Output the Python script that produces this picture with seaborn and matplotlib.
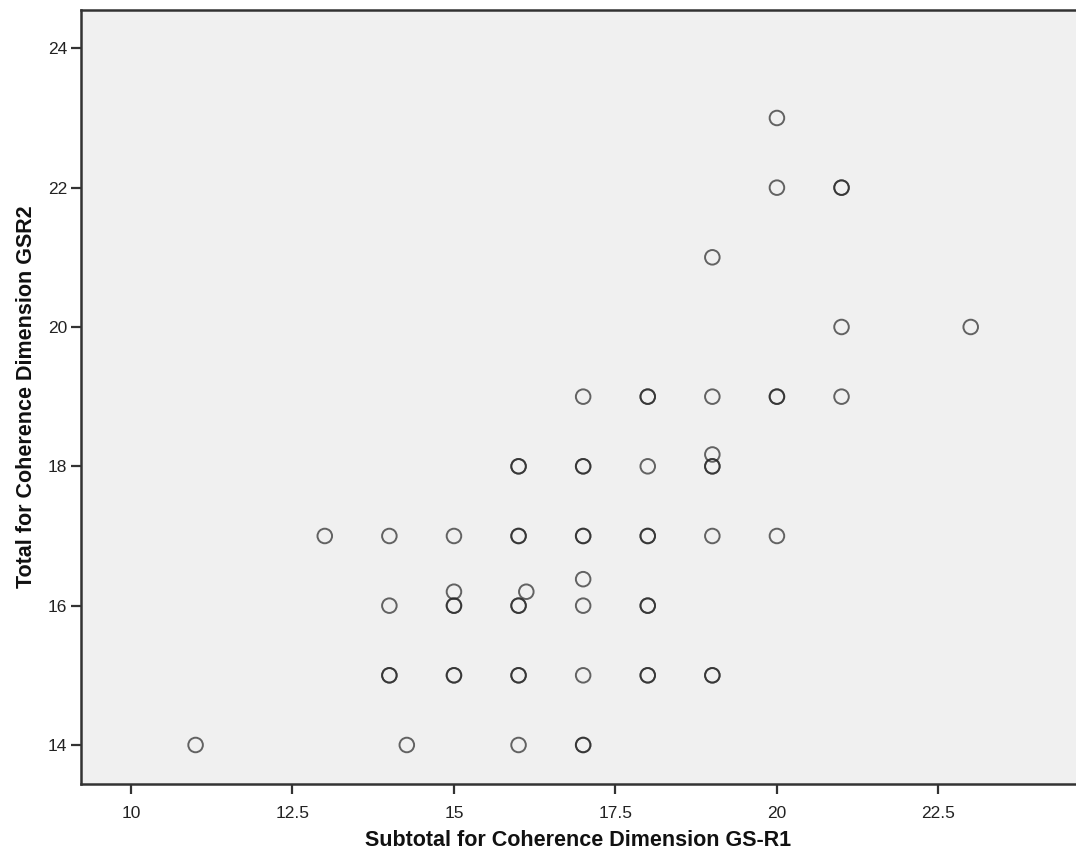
import matplotlib
matplotlib.use("Agg")
import matplotlib.pyplot as plt
import seaborn as sns
import pandas as pd

# Data (duplicates = overlapping darker markers)
gs_r1 = [20, 20, 21, 21, 19, 21, 23,
         17, 18, 18, 19, 20, 20, 21,
         19.0,
         16, 16, 17, 17, 18, 19, 19,
         13, 14, 15, 16, 16, 17, 17, 18, 18, 19, 20,
         17,
         15, 16.12,
         14, 15, 15, 16, 16, 17, 18, 18,
         14, 14, 15, 15, 16, 16, 17, 18, 18, 19, 19,
         11, 14.27, 16, 17, 17]
gsr2 = [23, 22, 22, 22, 21, 20, 20,
        19, 19, 19, 19, 19, 19, 19,
        18.17,
        18, 18, 18, 18, 18, 18, 18,
        17, 17, 17, 17, 17, 17, 17, 17, 17, 17, 17,
        16.38,
        16.2, 16.2,
        16, 16, 16, 16, 16, 16, 16, 16,
        15, 15, 15, 15, 15, 15, 15, 15, 15, 15, 15,
        14, 14, 14, 14, 14]

x_ticks = [10, 12.5, 15, 17.5, 20, 22.5]
x_tick_labels = ["10", "12.5", "15", "17.5", "20", "22.5"]
y_ticks = [14, 16, 18, 20, 22, 24]
x_label = "Subtotal for Coherence Dimension GS-R1"
y_label = "Total for Coherence Dimension GSR2"

df = pd.DataFrame({"x": gs_r1, "y": gsr2})

sns.set_theme(style="white")
plt.rcParams["font.family"] = ["Liberation Sans", "DejaVu Sans"]

fig = plt.figure(figsize=(10.76, 8.67), dpi=100)
ax = fig.add_axes([81 / 1076, 1 - 784 / 867, 1 - 81 / 1076, (784 - 10) / 867])
ax.set_facecolor("#f0f0f0")

sns.scatterplot(data=df, x="x", y="y", ax=ax, s=110, marker="o",
                facecolor="none", edgecolor=(0.15, 0.15, 0.15, 0.7),
                linewidth=1.4)

ax.set_xlim(9.226, 24.63)
ax.set_ylim(13.44, 24.55)
ax.set_xticks(x_ticks)
ax.set_xticklabels(x_tick_labels)
ax.set_yticks(y_ticks)

for side in ["left", "bottom", "top"]:
    ax.spines[side].set_visible(True)
    ax.spines[side].set_color("#333333")
    ax.spines[side].set_linewidth(1.8)
ax.spines["right"].set_visible(False)

ax.tick_params(axis="both", which="major", direction="out", length=7,
               width=1.6, color="#333333", labelsize=12.5, labelcolor="#222222",
               bottom=True, left=True, pad=3)
ax.tick_params(axis="x", pad=9)

ax.set_xlabel(x_label, fontsize=15.5, fontweight="bold", labelpad=6, color="#111111")
ax.set_ylabel(y_label, fontsize=15.5, fontweight="bold", labelpad=8, color="#111111")

fig.savefig("out.png", dpi=100)
